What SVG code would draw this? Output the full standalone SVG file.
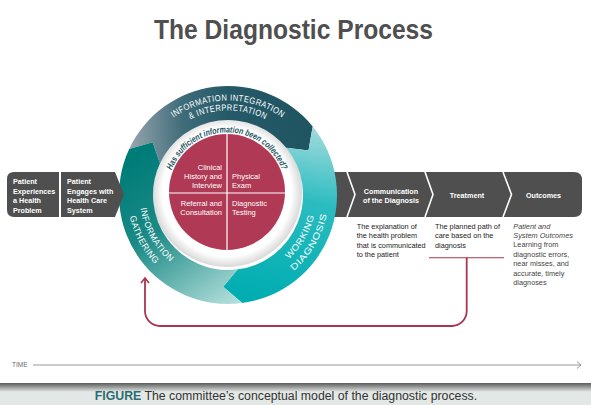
<svg xmlns="http://www.w3.org/2000/svg" width="591" height="405" viewBox="0 0 591 405">
<style>
.f{font-family:"Liberation Sans",Arial,sans-serif}
.bx{fill:#fff;font-family:"Liberation Sans",Arial,sans-serif;font-weight:bold;font-size:7.2px}
.ct{fill:#fff;font-family:"Liberation Sans",Arial,sans-serif;font-size:7.5px}
.rt{fill:#fff;font-family:"Liberation Sans",Arial,sans-serif;font-size:8.9px;letter-spacing:0.5px}
.ex{fill:#1a1a1a;font-family:"Liberation Sans",Arial,sans-serif;font-size:7.3px}
.ex3{fill:#444;font-family:"Liberation Sans",Arial,sans-serif;font-size:7.3px}
.dark{fill:#4f4f4f}
.sep{fill:none;stroke:#fff;stroke-width:1.6}
.loop{fill:none;stroke:#a8354f;stroke-width:1.8}
</style>
<defs>
<linearGradient id="gInt" gradientUnits="userSpaceOnUse" x1="129" y1="150" x2="313" y2="140">
<stop offset="0" stop-color="#98a6af"/><stop offset="0.3" stop-color="#3f6c79"/><stop offset="0.55" stop-color="#255968"/><stop offset="1" stop-color="#1f5461"/>
</linearGradient>
<linearGradient id="gWork" gradientUnits="userSpaceOnUse" x1="300" y1="130" x2="270" y2="300">
<stop offset="0" stop-color="#9ad8da"/><stop offset="0.4" stop-color="#2bbcc0"/><stop offset="1" stop-color="#00adb1"/>
</linearGradient>
<linearGradient id="gGath" gradientUnits="userSpaceOnUse" x1="135" y1="160" x2="235" y2="305">
<stop offset="0" stop-color="#007c78"/><stop offset="0.4" stop-color="#1b8a86"/><stop offset="1" stop-color="#b6e0dc"/>
</linearGradient>
<radialGradient id="gDisk" gradientUnits="userSpaceOnUse" cx="227" cy="192" r="75">
<stop offset="0.86" stop-color="#ffffff"/><stop offset="1" stop-color="#d8d8d8"/>
</radialGradient>
<linearGradient id="gShadow" x1="0" y1="0" x2="0" y2="1">
<stop offset="0" stop-color="#5a5a5a"/><stop offset="1" stop-color="#e3e8e6"/>
</linearGradient>
<marker id="arrM" markerUnits="userSpaceOnUse" markerWidth="12" markerHeight="12" refX="0" refY="0" viewBox="-7 -6 8 12" orient="auto" overflow="visible">
<path d="M-5,-4 L0,0 L-5,4" fill="none" stroke="#a8354f" stroke-width="1.6"/>
</marker>
<marker id="arrT" markerUnits="userSpaceOnUse" markerWidth="10" markerHeight="10" refX="0" refY="0" viewBox="-6 -5 7 10" orient="auto" overflow="visible">
<path d="M-4,-3.5 L0,0 L-4,3.5" fill="none" stroke="#999" stroke-width="1"/>
</marker>
<path id="pHas" d="M168.4,181.67 A59.5,59.5 0 0 1 285.6,181.67"/>
<path id="pL1" d="M146.2,147.75 A94.5,94.5 0 0 1 309.8,147.75"/>
<path id="pL2" d="M154.82,152.75 A84.5,84.5 0 0 1 301.18,152.75"/>
<path id="pWork" d="M258.27,278.16 A88.5,88.5 0 0 0 315.15,179.63"/>
<path id="pDiag" d="M262.37,289.44 A100.5,100.5 0 0 0 326.97,177.55"/>
<path id="pInfo" d="M141.13,178.11 A88.5,88.5 0 0 0 196.28,277.62"/>
<path id="pGath" d="M129.7,174.11 A100.5,100.5 0 0 0 190.35,288.18"/>
</defs>

<rect x="0" y="0" width="591" height="405" fill="#fff"/>

<text class="f" x="293.5" y="39" text-anchor="middle" font-size="27" font-weight="bold" fill="#4f4f4f" textLength="279" lengthAdjust="spacingAndGlyphs">The Diagnostic Process</text>

<!-- right process bar -->
<g id="process-bar">
<path class="dark" d="M325,172 H574 Q582,172 582,180 V209 Q582,217 574,217 H325 Z"/>
<polyline class="sep" points="347,172 355,194.5 347,217"/>
<polyline class="sep" points="425,172 433,194.5 425,217"/>
<polyline class="sep" points="503,172 511.5,194.5 503,217"/>
</g>
<g id="communication">
<text class="bx" x="391" y="193.5" text-anchor="middle">Communication</text>
<text class="bx" x="391" y="202.5" text-anchor="middle">of the Diagnosis</text>
<text class="ex" x="356.7" y="228.5">The explanation of</text>
<text class="ex" x="356.7" y="238">the health problem</text>
<text class="ex" x="356.7" y="247.5">that is communicated</text>
<text class="ex" x="356.7" y="257">to the patient</text>
</g>
<g id="treatment">
<text class="bx" x="467" y="197.5" text-anchor="middle">Treatment</text>
<text class="ex" x="435" y="228.5">The planned path of</text>
<text class="ex" x="435" y="238">care based on the</text>
<text class="ex" x="435" y="247.5">diagnosis</text>
</g>
<g id="outcomes">
<text class="bx" x="543.5" y="197.5" text-anchor="middle">Outcomes</text>
<text class="ex3" x="513.3" y="228.5" font-style="italic">Patient and</text>
<text class="ex3" x="513.3" y="237.9" font-style="italic">System Outcomes</text>
<text class="ex3" x="513.3" y="247.3">Learning from</text>
<text class="ex3" x="513.3" y="256.7">diagnostic errors,</text>
<text class="ex3" x="513.3" y="266.1">near misses, and</text>
<text class="ex3" x="513.3" y="275.5">accurate, timely</text>
<text class="ex3" x="513.3" y="284.9">diagnoses</text>
</g>

<circle cx="227" cy="192" r="75" fill="url(#gDisk)"/>

<!-- ring arrows -->
<g id="integration">
<path fill="url(#gInt)" d="M129.21,148.94 A109,109 0 0 1 312.71,126.41 L308.46,150.40 L286.28,147.80 A75,75 0 0 0 160.03,163.30 L152.63,142.23 Z"/>
<text class="rt"><textPath href="#pL1" startOffset="50%" text-anchor="middle" textLength="116" lengthAdjust="spacingAndGlyphs">INFORMATION INTEGRATION</textPath></text>
<text class="rt"><textPath href="#pL2" startOffset="50%" text-anchor="middle" textLength="78" lengthAdjust="spacingAndGlyphs">&amp; INTERPRETATION</textPath></text>
</g>
<g id="working-diagnosis">
<path fill="url(#gWork)" d="M312.71,126.41 A109,109 0 0 1 242.23,303.06 L223.19,286.87 L237.79,269.36 A75,75 0 0 0 286.28,147.80 L308.46,150.40 Z"/>
<text class="rt"><textPath href="#pWork" startOffset="50%" text-anchor="middle" textLength="51" lengthAdjust="spacingAndGlyphs">WORKING</textPath></text>
<text class="rt"><textPath href="#pDiag" startOffset="50%" text-anchor="middle" textLength="67" lengthAdjust="spacingAndGlyphs">DIAGNOSIS</textPath></text>
</g>
<g id="information-gathering">
<path fill="url(#gGath)" d="M242.23,303.06 A109,109 0 0 1 129.21,148.94 L152.63,142.23 L160.03,163.30 A75,75 0 0 0 237.79,269.36 L223.19,286.87 Z"/>
<text class="rt"><textPath href="#pInfo" startOffset="50%" text-anchor="middle" textLength="63" lengthAdjust="spacingAndGlyphs">INFORMATION</textPath></text>
<text class="rt"><textPath href="#pGath" startOffset="50%" text-anchor="middle" textLength="55" lengthAdjust="spacingAndGlyphs">GATHERING</textPath></text>
</g>

<!-- center disk -->
<g id="center">
<circle cx="227" cy="192" r="58" fill="#b03a55"/>
<line x1="227" y1="134" x2="227" y2="250" stroke="#fff" stroke-width="1.2"/>
<line x1="169" y1="193" x2="285" y2="193" stroke="#fff" stroke-width="1.2"/>
<text class="f" font-size="8.8" font-style="italic" font-weight="bold" fill="#1f5563"><textPath href="#pHas" startOffset="50%" text-anchor="middle" textLength="142" lengthAdjust="spacingAndGlyphs">Has sufficient information been collected?</textPath></text>
</g>
<g id="clinical-history">
<text class="ct" x="222" y="170" text-anchor="end">Clinical</text>
<text class="ct" x="222" y="179.3" text-anchor="end">History and</text>
<text class="ct" x="222" y="188.3" text-anchor="end">Interview</text>
</g>
<g id="physical-exam">
<text class="ct" x="232" y="179.3">Physical</text>
<text class="ct" x="232" y="188.3">Exam</text>
</g>
<g id="referral">
<text class="ct" x="222" y="206" text-anchor="end">Referral and</text>
<text class="ct" x="222" y="215" text-anchor="end">Consultation</text>
</g>
<g id="diagnostic-testing">
<text class="ct" x="232" y="206">Diagnostic</text>
<text class="ct" x="232" y="215">Testing</text>
</g>

<!-- left boxes -->
<g id="patient-experiences">
<path class="dark" d="M14,172 H59 V217 H14 Q7,217 7,210 V179 Q7,172 14,172 Z"/>
<text class="bx" x="13" y="184">Patient</text>
<text class="bx" x="13" y="193.5">Experiences</text>
<text class="bx" x="13" y="203">a Health</text>
<text class="bx" x="13" y="212.5">Problem</text>
</g>
<g id="patient-engages">
<path class="dark" d="M61,172 H115 L124,194.5 L115,217 H61 Z"/>
<text class="bx" x="67" y="184">Patient</text>
<text class="bx" x="67" y="193.5">Engages with</text>
<text class="bx" x="67" y="203">Health Care</text>
<text class="bx" x="67" y="212.5">System</text>
</g>

<!-- connectors -->
<g id="connectors">
<line x1="429" y1="257.7" x2="504" y2="257.7" stroke="#a8354f" stroke-width="1.1"/>
<path class="loop" d="M466.7,257.7 V311 A15,15 0 0 1 451.7,326 H160 A15,15 0 0 1 145,311 V278" marker-end="url(#arrM)"/>
<line x1="33" y1="365" x2="581" y2="365" stroke="#999" stroke-width="1" marker-end="url(#arrT)"/>
</g>
<text class="f" x="12" y="367.3" font-size="6.5" fill="#6a6a6a">TIME</text>

<!-- caption band -->
<rect x="0" y="383" width="591" height="9" fill="url(#gShadow)"/>
<rect x="0" y="391.5" width="591" height="13.5" fill="#e3e8e6"/>
<text class="f" x="286" y="399.5" text-anchor="middle" font-size="12.3" fill="#333"><tspan font-weight="bold" fill="#2b6c70">FIGURE</tspan> The committee’s conceptual model of the diagnostic process.</text>
</svg>
